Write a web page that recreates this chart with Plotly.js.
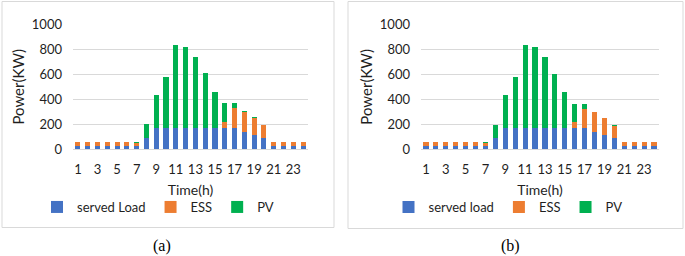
<!DOCTYPE html>
<html>
<head>
<meta charset="utf-8">
<script src="https://cdn.plot.ly/plotly-3.0.1.min.js"></script>
<style>html,body{margin:0;padding:0;background:#fff;}#chart{width:685px;height:256px;}</style>
</head>
<body>
<div id="chart"></div>
<script>
const hours = [1,2,3,4,5,6,7,8,9,10,11,12,13,14,15,16,17,18,19,20,21,22,23,24];
const xTickVals = [1,3,5,7,9,11,13,15,17,19,21,23];
const xTickText = ["1","3","5","7","9","11","13","15","17","19","21","23"];
const yTickVals = [0,200,400,600,800,1000];
const seriesNames = ["served Load","ESS","PV"];
const seriesNamesB = ["served load","ESS","PV"];
const panelLabels = ["(a)","(b)"];

// Panel (a)
const loadA = [28,28,28,28,28,28,28,90,172,172,172,172,172,172,172,172,172,138,115,88,28,28,28,28];
const essA  = [25,25,25,25,25,25,20,0,0,0,0,0,0,0,0,48,155,160,135,102,25,25,25,25];
const pvA   = [5,5,5,5,5,5,12,108,265,410,668,648,572,440,288,150,42,6,6,5,5,5,5,5];
// Panel (b)
const loadB = [28,28,28,28,28,28,28,88,170,170,170,170,170,170,170,170,170,135,112,86,28,28,28,28];
const essB  = [25,25,25,25,25,25,20,0,0,0,0,0,0,0,0,45,155,160,135,100,25,25,25,25];
const pvB   = [5,5,5,5,5,5,12,105,265,410,665,648,570,435,285,150,40,6,6,5,5,5,5,5];

const colors = ["#4472C4","#ED7D31","#00B050"];
const W = 685, H = 256;
const fontFam = "Lato, 'Open Sans', sans-serif";
const txt = "#1f1f1f";

function mk(vals, i, names, xa, ya, lg) {
  return {type:"bar", x:hours, y:vals, name:names[i], marker:{color:colors[i]},
          xaxis:xa, yaxis:ya, legend:lg, width:0.52};
}
const traces = [
  mk(loadA,0,seriesNames,"x","y","legend"),
  mk(essA,1,seriesNames,"x","y","legend"),
  mk(pvA,2,seriesNames,"x","y","legend"),
  mk(loadB,0,seriesNamesB,"x2","y2","legend2"),
  mk(essB,1,seriesNamesB,"x2","y2","legend2"),
  mk(pvB,2,seriesNamesB,"x2","y2","legend2")
];

const yDom = [(H-149)/H, (H-24.7)/H];
function xax(d0,d1,anchor){
  return {domain:[d0/W,d1/W], range:[0.5,24.5], anchor:anchor, tickmode:"array",
    tickvals:xTickVals, ticktext:xTickText, showgrid:false, zeroline:false,
    showline:true, linecolor:"#d9d9d9", linewidth:1, ticks:"", ticklabelstandoff:8,
    tickfont:{family:fontFam,size:13,color:txt},
    title:{text:"Time(h)", font:{family:fontFam,size:14,color:txt}, standoff:9}, automargin:false, fixedrange:true};
}
function yax(anchor){
  return {domain:yDom, range:[0,1000], anchor:anchor, tickmode:"array", tickvals:yTickVals,
    showgrid:true, gridcolor:"#d9d9d9", gridwidth:1, zeroline:false, showline:false, ticks:"",
    ticklabelstandoff:10,
    tickfont:{family:fontFam,size:13,color:txt},
    title:{text:"Power(KW)", font:{family:fontFam,size:15,color:txt}, standoff:3}, automargin:false, fixedrange:true};
}
const legBase = {orientation:"h", xanchor:"center", yanchor:"middle", y:(H-207)/H,
  font:{family:fontFam,size:13,color:txt}, itemwidth:30, bgcolor:"rgba(0,0,0,0)", traceorder:"normal", itemclick:false};

const layout = {
  width:W, height:H, margin:{l:0,r:0,t:0,b:0}, paper_bgcolor:"#fff", plot_bgcolor:"#fff",
  barmode:"stack", showlegend:true,
  xaxis: xax(73,308,"y"), yaxis: yax("x"),
  xaxis2: xax(421,659,"y2"), yaxis2: yax("x2"),
  legend: Object.assign({}, legBase, {x:158/W}),
  legend2: Object.assign({}, legBase, {x:508/W}),
  shapes:[
    {type:"rect", xref:"paper", yref:"paper", x0:2/W, x1:334/W, y0:(H-227.5)/H, y1:(H-1.5)/H, line:{color:"#d9d9d9",width:1}},
    {type:"rect", xref:"paper", yref:"paper", x0:348/W, x1:683/W, y0:(H-228.5)/H, y1:(H-1.5)/H, line:{color:"#d9d9d9",width:1}}
  ],
  annotations:[
    {text:panelLabels[0], xref:"paper", yref:"paper", x:162/W, y:(H-246)/H, xanchor:"center", yanchor:"middle", showarrow:false,
     font:{family:"'Liberation Serif', serif", size:16, color:"#000"}},
    {text:panelLabels[1], xref:"paper", yref:"paper", x:510/W, y:(H-246)/H, xanchor:"center", yanchor:"middle", showarrow:false,
     font:{family:"'Liberation Serif', serif", size:16, color:"#000"}}
  ]
};
Plotly.newPlot("chart", traces, layout, {displayModeBar:false, staticPlot:true});
</script>
</body>
</html>
